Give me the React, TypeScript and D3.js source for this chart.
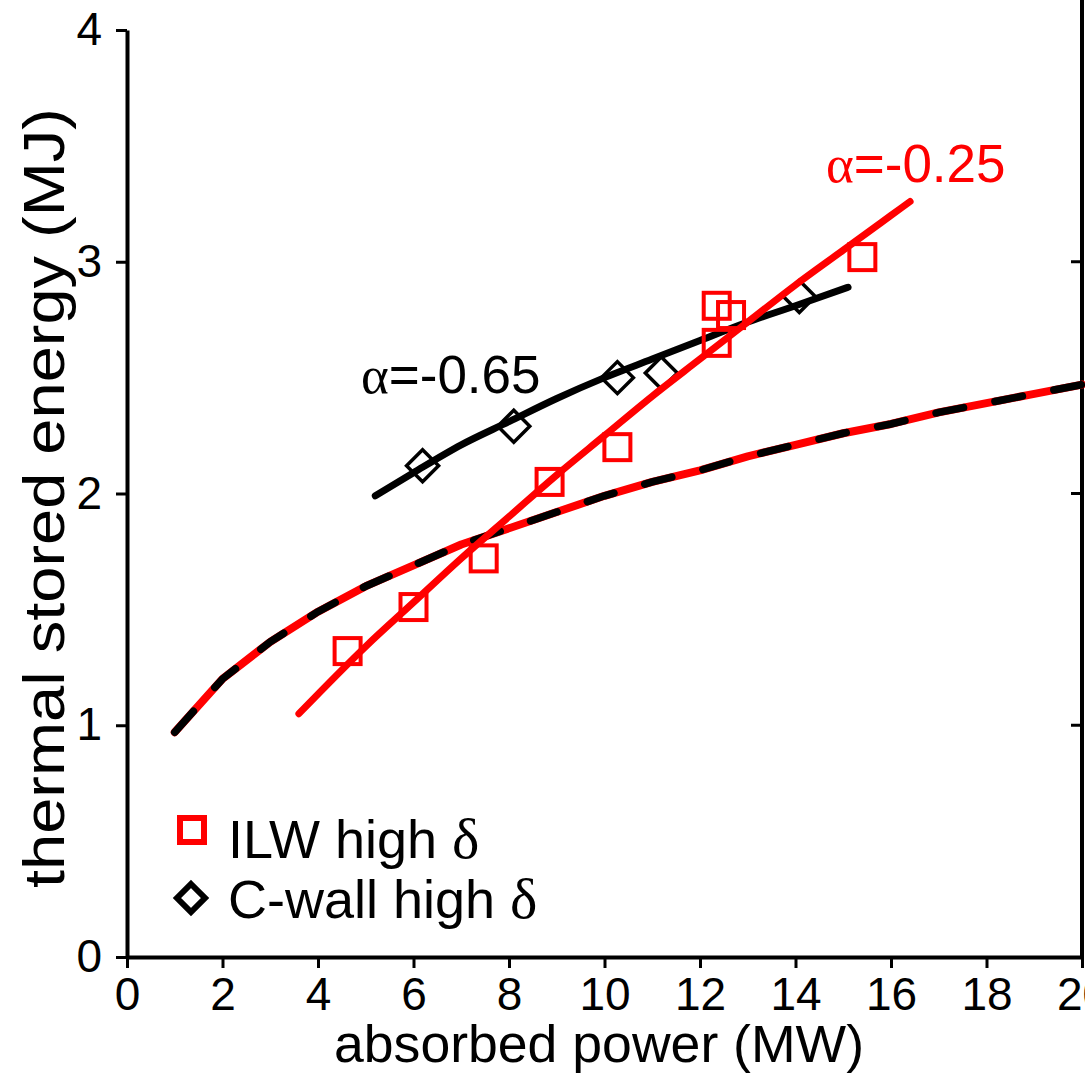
import React, { useEffect, useRef } from "react";
import * as d3 from "d3";

// axis ticks
const xTicks = [0, 2, 4, 6, 8, 10, 12, 14, 16, 18, 20];
const yTicks = [0, 1, 2, 3, 4];

// ILW high delta (red squares)
const ilwPower = [4.62, 6.0, 7.47, 8.85, 10.27, 12.35, 12.65, 12.35, 15.4];
const ilwEnergy = [1.32, 1.51, 1.72, 2.05, 2.2, 2.81, 2.77, 2.65, 3.02];

// C-wall high delta (black diamonds)
const cwallPower = [6.19, 8.1, 10.27, 11.19, 14.08];
const cwallEnergy = [2.12, 2.29, 2.5, 2.52, 2.85];

// fit through ILW points, alpha=-0.25
const ilwFitPower = [3.6, 5, 6, 7, 8, 9, 10, 11, 12, 13, 14, 15, 16, 16.4];
const ilwFitEnergy = [1.05, 1.34, 1.53, 1.72, 1.9, 2.08, 2.25, 2.42, 2.58, 2.74, 2.9, 3.05, 3.2, 3.26];

// fit through C-wall points, alpha=-0.65
const cwallFitPower = [5.2, 6, 7, 8, 9, 10, 11, 12, 13, 14, 15.1];
const cwallFitEnergy = [1.99, 2.09, 2.21, 2.31, 2.41, 2.5, 2.58, 2.66, 2.74, 2.81, 2.89];

// dashed red/black reference curve
const refPower = [1, 2, 3, 4, 5, 6, 7, 8, 9, 10, 11, 12, 13, 14, 15, 16, 17, 18, 19, 20];
const refEnergy = [0.97, 1.2, 1.36, 1.49, 1.6, 1.69, 1.78, 1.85, 1.92, 1.99, 2.05, 2.1, 2.16, 2.21, 2.26, 2.3, 2.35, 2.39, 2.43, 2.47];

const RED = "#ff0000";
const FONT = "'Liberation Sans', Arial, Helvetica, sans-serif";
const SERIF = "'Liberation Serif', 'Times New Roman', serif";

export default function App() {
  const ref = useRef<SVGSVGElement>(null);

  useEffect(() => {
    const svg = d3.select(ref.current);
    svg.selectAll("*").remove();

    const x = d3.scaleLinear().domain([0, 20]).range([127, 1082]);
    const y = d3.scaleLinear().domain([0, 4]).range([957, 30]);

    const line = d3.line<[number, number]>()
      .x(d => x(d[0]))
      .y(d => y(d[1]));
    const smooth = d3.line<[number, number]>()
      .x(d => x(d[0]))
      .y(d => y(d[1]))
      .curve(d3.curveMonotoneX);

    const zip = (a: number[], b: number[]) => a.map((v, i) => [v, b[i]] as [number, number]);

    // axes
    const yAxis = svg.append("g")
      .attr("transform", `translate(${x(0)},0)`)
      .call(d3.axisLeft(y).tickValues(yTicks).tickSize(11).tickSizeOuter(0).tickPadding(14).tickFormat(d3.format("d")));
    const xAxis = svg.append("g")
      .attr("transform", `translate(0,${y(0)})`)
      .call(d3.axisBottom(x).tickValues(xTicks).tickSize(11).tickSizeOuter(0).tickPadding(9).tickFormat(d3.format("d")));

    [yAxis, xAxis].forEach(a => {
      a.select(".domain").attr("stroke", "#000").attr("stroke-width", 4);
      a.selectAll(".tick line").attr("stroke", "#000").attr("stroke-width", 3);
      a.selectAll(".tick text")
        .attr("fill", "#000")
        .style("font-family", FONT)
        .style("font-size", "46px");
    });

    // right spine with inward ticks
    const right = svg.append("g");
    right.append("line")
      .attr("x1", x(20)).attr("x2", x(20))
      .attr("y1", 0).attr("y2", y(0) + 2)
      .attr("stroke", "#000").attr("stroke-width", 4);
    right.selectAll("line.rt")
      .data(yTicks.filter(t => t > 0 && t < 4))
      .enter().append("line")
      .attr("class", "rt")
      .attr("x1", x(20)).attr("x2", x(20) - 11)
      .attr("y1", d => y(d)).attr("y2", d => y(d))
      .attr("stroke", "#000").attr("stroke-width", 3);

    // axis titles
    svg.append("text")
      .attr("x", 599).attr("y", 1062)
      .attr("text-anchor", "middle")
      .attr("textLength", 530).attr("lengthAdjust", "spacingAndGlyphs")
      .style("font-family", FONT).style("font-size", "51px")
      .text("absorbed power (MW)");
    svg.append("text")
      .attr("transform", "translate(64,498) rotate(-90)")
      .attr("text-anchor", "middle")
      .attr("textLength", 780).attr("lengthAdjust", "spacingAndGlyphs")
      .style("font-family", FONT).style("font-size", "57px")
      .text("thermal stored energy (MJ)");

    // dashed reference curve: red under, black dashes on top
    const refData = zip(refPower, refEnergy);
    svg.append("path")
      .attr("d", line(refData))
      .attr("fill", "none").attr("stroke", RED)
      .attr("stroke-width", 8).attr("stroke-linecap", "round").attr("stroke-linejoin", "round");
    svg.append("path")
      .attr("d", line(refData))
      .attr("fill", "none").attr("stroke", "#000")
      .attr("stroke-width", 7.5).attr("stroke-linecap", "round")
      .attr("stroke-dasharray", "28,32");

    // C-wall fit and diamonds
    svg.append("path")
      .attr("d", smooth(zip(cwallFitPower, cwallFitEnergy)))
      .attr("fill", "none").attr("stroke", "#000")
      .attr("stroke-width", 7).attr("stroke-linecap", "round");

    const diamond = (r: number) => `M0,${-r}L${r},0L0,${r}L${-r},0Z`;
    svg.selectAll("path.dia")
      .data(zip(cwallPower, cwallEnergy))
      .enter().append("path")
      .attr("class", "dia")
      .attr("d", diamond(16))
      .attr("transform", d => `translate(${x(d[0])},${y(d[1])})`)
      .attr("fill", "none").attr("stroke", "#000").attr("stroke-width", 3.5);

    // ILW fit and squares
    svg.append("path")
      .attr("d", smooth(zip(ilwFitPower, ilwFitEnergy)))
      .attr("fill", "none").attr("stroke", RED)
      .attr("stroke-width", 7).attr("stroke-linecap", "round");

    svg.selectAll("rect.sq")
      .data(zip(ilwPower, ilwEnergy))
      .enter().append("rect")
      .attr("class", "sq")
      .attr("x", d => x(d[0]) - 13).attr("y", d => y(d[1]) - 13)
      .attr("width", 26).attr("height", 26)
      .attr("fill", "none").attr("stroke", RED).attr("stroke-width", 4);

    // annotations
    const label = (tx: number, ty: number, txt: string, color: string) => {
      const t = svg.append("text")
        .attr("x", tx).attr("y", ty)
        .attr("fill", color)
        .style("font-family", FONT).style("font-size", "53px");
      t.append("tspan").style("font-family", SERIF).text("α");
      t.append("tspan").text(txt);
    };
    label(361, 393, "=-0.65", "#000");
    label(826, 182, "=-0.25", RED);

    // legend
    svg.append("rect")
      .attr("x", 180).attr("y", 818).attr("width", 24).attr("height", 24)
      .attr("fill", "none").attr("stroke", RED).attr("stroke-width", 6);
    svg.append("path")
      .attr("d", diamond(14))
      .attr("transform", "translate(191,898)")
      .attr("fill", "none").attr("stroke", "#000").attr("stroke-width", 6);

    const legText = (ty: number, txt: string) => {
      const t = svg.append("text")
        .attr("x", 228).attr("y", ty)
        .style("font-family", FONT).style("font-size", "54px");
      t.append("tspan").text(txt);
      t.append("tspan").style("font-family", SERIF).style("font-size", "58px").text("δ");
    };
    legText(858, "ILW high ");
    legText(918, "C-wall high ");
  }, []);

  return (
    <svg
      ref={ref}
      width={1085}
      height={1077}
      style={{ position: "absolute", left: 0, top: 0, background: "#fff" }}
    />
  );
}
